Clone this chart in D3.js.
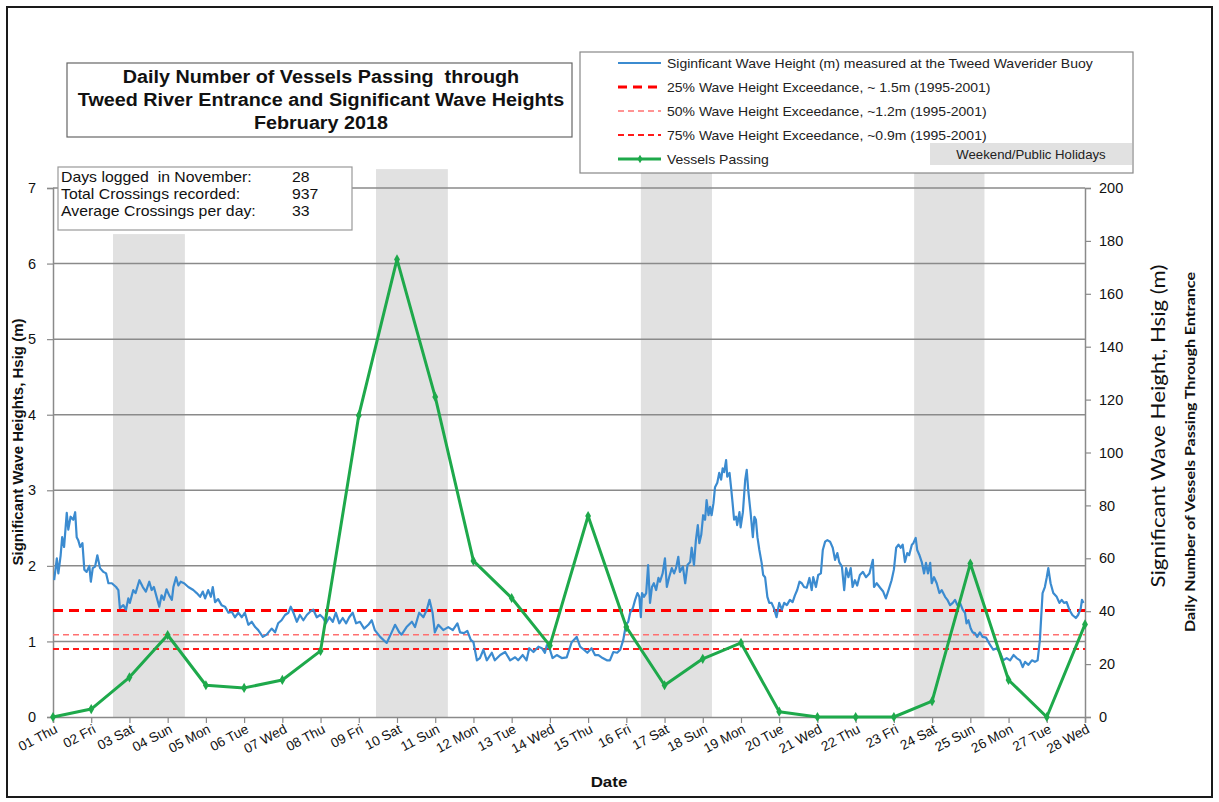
<!DOCTYPE html>
<html><head><meta charset="utf-8">
<script src="https://cdn.jsdelivr.net/npm/d3@7"></script>
<style>
html,body{margin:0;padding:0;background:#fff;}
svg text{font-family:"Liberation Sans",Arial,sans-serif;}
</style></head>
<body>
<svg id="chart" width="1219" height="802"></svg>
<script>
// ---------- DATA ----------
const dayLabels = ["01 Thu","02 Fri","03 Sat","04 Sun","05 Mon","06 Tue","07 Wed","08 Thu","09 Fri","10 Sat","11 Sun","12 Mon","13 Tue","14 Wed","15 Thu","16 Fri","17 Sat","18 Sun","19 Mon","20 Tue","21 Wed","22 Thu","23 Fri","24 Sat","25 Sun","26 Mon","27 Tue","28 Wed"];
const vessels = [0,3,15,31,12,11,14,25,114,173,121,59,45,27,76,34,12,22,28,2,0,0,0,6,58,14,0,35];

// wave record: time in days since 01 Feb 00:00, significant wave height (m)
const waveTime = [0.03,0.10,0.14,0.20,0.24,0.29,0.36,0.40,0.46,0.53,0.58,0.62,0.66,0.71,0.77,0.82,0.88,0.95,0.99,1.04,1.10,1.16,1.23,1.32,1.39,1.45,1.54,1.65,1.71,1.75,1.84,1.91,1.97,2.01,2.10,2.16,2.26,2.35,2.43,2.52,2.58,2.64,2.71,2.78,2.84,2.90,2.97,3.04,3.11,3.15,3.22,3.28,3.34,3.43,3.54,3.67,3.76,3.85,3.92,3.98,4.06,4.13,4.18,4.24,4.32,4.41,4.50,4.59,4.68,4.76,4.85,4.94,5.02,5.11,5.20,5.29,5.37,5.49,5.59,5.72,5.81,5.89,5.98,6.07,6.16,6.22,6.29,6.38,6.46,6.55,6.64,6.72,6.81,6.90,6.99,7.07,7.14,7.23,7.32,7.40,7.49,7.58,7.67,7.75,7.84,7.93,8.03,8.14,8.25,8.34,8.42,8.56,8.73,8.86,8.95,9.06,9.12,9.25,9.39,9.47,9.58,9.69,9.78,9.85,9.93,9.99,10.08,10.21,10.34,10.46,10.58,10.65,10.75,10.84,10.93,11.00,11.09,11.17,11.26,11.35,11.48,11.56,11.70,11.83,11.96,12.09,12.17,12.29,12.39,12.46,12.57,12.70,12.79,12.87,12.92,12.99,13.07,13.18,13.31,13.44,13.57,13.70,13.79,13.89,13.98,14.09,14.18,14.27,14.38,14.49,14.57,14.66,14.76,14.84,14.92,14.99,15.05,15.10,15.17,15.23,15.29,15.34,15.38,15.41,15.46,15.52,15.57,15.62,15.67,15.72,15.78,15.84,15.88,15.95,16.01,16.06,16.12,16.19,16.25,16.30,16.36,16.40,16.48,16.54,16.60,16.67,16.71,16.77,16.82,16.87,16.91,16.96,17.01,17.06,17.10,17.15,17.19,17.23,17.28,17.32,17.38,17.43,17.48,17.52,17.56,17.61,17.64,17.70,17.74,17.78,17.82,17.87,17.90,17.96,17.99,18.05,18.11,18.15,18.19,18.25,18.31,18.35,18.39,18.43,18.48,18.54,18.58,18.63,18.69,18.74,18.80,18.86,18.93,19.00,19.07,19.13,19.20,19.28,19.35,19.41,19.47,19.53,19.59,19.65,19.72,19.79,19.85,19.89,19.96,20.02,20.09,20.14,20.20,20.26,20.33,20.40,20.46,20.52,20.57,20.64,20.70,20.75,20.81,20.87,20.92,20.98,21.04,21.11,21.19,21.27,21.36,21.45,21.48,21.55,21.64,21.72,21.79,21.86,21.94,22.00,22.06,22.12,22.18,22.23,22.29,22.35,22.40,22.47,22.51,22.57,22.61,22.67,22.73,22.79,22.84,22.89,22.95,22.99,23.05,23.12,23.19,23.25,23.34,23.40,23.47,23.54,23.60,23.66,23.73,23.80,23.86,23.90,23.95,24.01,24.06,24.12,24.18,24.25,24.32,24.41,24.52,24.60,24.69,24.78,24.86,24.95,25.04,25.13,25.21,25.30,25.37,25.43,25.52,25.61,25.69,25.76,25.82,25.89,25.95,26.00,26.04,26.10,26.17,26.26,26.33,26.39,26.45,26.52,26.59,26.67,26.76,26.82,26.89,26.92,26.96];
const waveHeight = [1.81,2.10,1.90,2.14,2.38,2.25,2.70,2.48,2.65,2.61,2.71,2.38,2.34,2.25,2.30,1.95,1.92,2.00,1.79,1.97,1.99,2.14,1.97,1.92,1.90,1.77,1.77,1.72,1.68,1.44,1.48,1.42,1.57,1.51,1.68,1.64,1.81,1.72,1.66,1.79,1.68,1.72,1.59,1.46,1.61,1.55,1.69,1.61,1.55,1.72,1.85,1.74,1.79,1.77,1.72,1.68,1.64,1.59,1.66,1.57,1.68,1.59,1.72,1.52,1.56,1.48,1.46,1.38,1.39,1.32,1.38,1.32,1.38,1.22,1.26,1.19,1.15,1.06,1.09,1.17,1.12,1.24,1.28,1.35,1.38,1.46,1.38,1.26,1.35,1.28,1.35,1.39,1.42,1.32,1.35,1.31,1.24,1.32,1.26,1.38,1.24,1.31,1.24,1.32,1.38,1.24,1.26,1.17,1.22,1.28,1.15,1.06,0.98,1.12,1.22,1.12,1.09,1.19,1.26,1.19,1.38,1.32,1.42,1.55,1.38,1.12,1.22,1.15,1.19,1.15,1.24,1.12,1.11,1.14,1.02,0.99,0.75,0.78,0.89,0.75,0.85,0.75,0.82,0.86,0.75,0.79,0.75,0.82,0.75,0.91,0.86,0.93,0.91,0.85,0.95,0.91,0.78,0.82,0.78,0.79,0.99,1.06,0.93,0.89,0.85,0.91,0.82,0.82,0.78,0.75,0.75,0.86,0.85,0.89,1.02,1.22,1.26,1.38,1.44,1.55,1.64,1.59,1.32,1.64,1.59,1.64,2.01,1.51,1.72,1.77,1.68,1.84,1.79,1.90,2.10,1.72,1.85,1.97,1.90,1.97,2.12,1.92,1.99,1.77,2.01,2.05,2.24,2.01,2.34,2.54,2.30,2.41,2.67,2.61,2.87,2.67,2.78,2.67,2.83,3.04,3.10,3.23,3.14,3.29,3.24,3.40,3.18,3.23,3.04,2.83,2.61,2.65,2.54,2.71,2.51,2.71,3.14,3.27,3.00,2.71,2.38,2.65,2.61,2.38,2.21,2.04,1.88,1.85,1.59,1.51,1.51,1.44,1.32,1.51,1.42,1.51,1.48,1.55,1.52,1.61,1.68,1.79,1.77,1.72,1.71,1.84,1.68,1.85,1.72,1.88,1.90,2.21,2.32,2.34,2.32,2.24,2.08,2.17,2.05,1.99,1.68,1.97,1.85,1.97,1.72,1.81,1.74,1.88,1.92,1.85,1.90,2.08,1.72,1.77,1.71,1.66,1.57,1.68,1.81,1.95,2.24,2.28,2.24,2.28,2.05,2.17,2.14,2.28,2.30,2.37,2.21,2.14,2.05,1.90,2.04,1.90,2.04,1.77,1.85,1.77,1.64,1.68,1.59,1.55,1.48,1.51,1.55,1.48,1.51,1.42,1.38,1.24,1.28,1.17,1.12,1.11,1.06,1.12,1.06,1.05,0.95,0.89,0.91,0.85,0.75,0.78,0.75,0.82,0.78,0.75,0.66,0.73,0.69,0.75,0.73,0.75,1.02,1.64,1.72,1.85,1.97,1.77,1.64,1.59,1.51,1.55,1.51,1.52,1.42,1.35,1.31,1.35,1.44,1.55,1.51];

const exceedanceLabels = ["25% Wave Height Exceedance, ~ 1.5m (1995-2001)","50% Wave Height Exceedance, ~1.2m (1995-2001)","75% Wave Height Exceedance, ~0.9m (1995-2001)"];
const exceedanceValues = [1.41, 1.09, 0.90];

// weekend shading bands (day position start/end, top in m)
const shadeStart = [1.57, 8.45, 15.38, 22.53];
const shadeEnd   = [3.45, 10.33, 17.24, 24.37];
const shadeTop   = [6.39, 7.25, 7.25, 7.25];

const leftTicks = [0,1,2,3,4,5,6,7];
const rightTicks = [0,20,40,60,80,100,120,140,160,180,200];

const titleLines = ["Daily Number of Vessels Passing  through","Tweed River Entrance and Significant Wave Heights","February 2018"];
const statLabels = ["Days logged  in November:","Total Crossings recorded:","Average Crossings per day:"];
const statValues = ["28","937","33"];

// ---------- DRAW ----------
const svg = d3.select("#chart");
const L = 53, R = 1085, T = 188, B = 717;
const x = d3.scaleLinear().domain([0, 27]).range([L, R]);
const y = d3.scaleLinear().domain([0, 7]).range([B, T]);
const y2 = d3.scaleLinear().domain([0, 200]).range([B, T]);

const BLUE = "#3b8bd0", GREEN = "#1ea94b", GRID = "#8a8a8a", SHADE = "#e1e1e1";
const SX = 1.13; // horizontal stretch of the reference's text

function put(sel, px, py, sx){ // position a text with horizontal stretch
  return sel.attr("x",0).attr("y",0).attr("transform",`translate(${px},${py}) scale(${sx},1)`);
}

// outer frame
svg.append("rect").attr("x",7).attr("y",7).attr("width",1205).attr("height",790)
  .attr("fill","#fff").attr("stroke","#1a1a1a").attr("stroke-width",2);

// shades
svg.append("g").selectAll("rect").data(shadeStart).join("rect")
  .attr("x", (d,i)=>x(d)).attr("width",(d,i)=>x(shadeEnd[i])-x(d))
  .attr("y",(d,i)=>y(shadeTop[i])).attr("height",(d,i)=>y(0)-y(shadeTop[i]))
  .attr("fill",SHADE);

// gridlines
svg.append("g").selectAll("line").data(leftTicks.filter(d=>d>0)).join("line")
  .attr("x1",L).attr("x2",R).attr("y1",d=>y(d)).attr("y2",d=>y(d))
  .attr("stroke",GRID).attr("stroke-width",1.5);

// axes
const gL = svg.append("g").attr("transform",`translate(${L},0)`)
  .call(d3.axisLeft(y).tickValues(leftTicks).tickSize(6).tickPadding(11).tickFormat(d3.format("d")));
const gR = svg.append("g").attr("transform",`translate(${R},0)`)
  .call(d3.axisRight(y2).tickValues(rightTicks).tickSize(6).tickPadding(8).tickFormat(d3.format("d")));
const gX = svg.append("g").attr("transform",`translate(0,${B})`)
  .call(d3.axisBottom(x).tickValues(d3.range(dayLabels.length)).tickSize(6).tickFormat(i=>dayLabels[i]));
[gL,gR,gX].forEach(g=>{
  g.select(".domain").attr("stroke",GRID).attr("stroke-width",1.5);
  g.selectAll(".tick line").attr("stroke",GRID).attr("stroke-width",1.2);
  g.selectAll("text").attr("fill","#111").style("font-size","14.5px")
    .style("font-family","'Liberation Sans',Arial,sans-serif");
});
gX.selectAll("text").style("font-size","13.5px")
  .attr("text-anchor","end").attr("dy",null).attr("y",0).attr("x",0)
  .attr("transform","translate(5,15) rotate(-28)");

// exceedance lines
const excStyles = [
  {stroke:"#ff0000", w:3, dash:"10,6"},
  {stroke:"#ff7070", w:1.5, dash:"6,4"},
  {stroke:"#ff1a1a", w:2.2, dash:"6,4"}
];
svg.append("g").selectAll("line").data(exceedanceValues).join("line")
  .attr("x1",L).attr("x2",R).attr("y1",d=>y(d)).attr("y2",d=>y(d))
  .attr("stroke",(d,i)=>excStyles[i].stroke).attr("stroke-width",(d,i)=>excStyles[i].w)
  .attr("stroke-dasharray",(d,i)=>excStyles[i].dash);

// wave line
const waveData = waveTime.map((t,i)=>[t, waveHeight[i]]);
svg.append("path").datum(waveData)
  .attr("fill","none").attr("stroke",BLUE).attr("stroke-width",2.2).attr("stroke-linejoin","round")
  .attr("d", d3.line().x(d=>x(d[0])).y(d=>y(d[1])));

// vessels line
svg.append("path").datum(vessels)
  .attr("fill","none").attr("stroke",GREEN).attr("stroke-width",3).attr("stroke-linejoin","round")
  .attr("d", d3.line().x((d,i)=>x(i)).y(d=>y2(d)));
svg.append("g").selectAll("path").data(vessels).join("path")
  .attr("d", d3.symbol().type(d3.symbolDiamond).size(30))
  .attr("transform",(d,i)=>`translate(${x(i)},${y2(d)})`)
  .attr("fill",GREEN);

// title box
svg.append("rect").attr("x",67).attr("y",63).attr("width",505).attr("height",74)
  .attr("fill","#fff").attr("stroke","#666").attr("stroke-width",1.2);
svg.append("g").selectAll("text").data(titleLines).join("text")
  .attr("text-anchor","middle").attr("xml:space","preserve")
  .style("font-size","17.5px").style("font-weight","bold").attr("fill","#111")
  .text(d=>d)
  .each(function(d,i){ put(d3.select(this), 321, 83+i*23, SX); });

// stats box
svg.append("rect").attr("x",58).attr("y",167).attr("width",294).attr("height",63)
  .attr("fill","#fff").attr("stroke","#999").attr("stroke-width",1.2);
svg.append("g").selectAll("text").data(statLabels).join("text")
  .style("font-size","14px").attr("fill","#111").attr("xml:space","preserve").text(d=>d)
  .each(function(d,i){ put(d3.select(this), 61, 182+i*17, SX); });
svg.append("g").selectAll("text").data(statValues).join("text")
  .style("font-size","14px").attr("fill","#111").text(d=>d)
  .each(function(d,i){ put(d3.select(this), 292, 182+i*17, SX); });

// legend
const lg = svg.append("g");
lg.append("rect").attr("x",580).attr("y",52).attr("width",553).attr("height",121)
  .attr("fill","#fff").attr("stroke","#888").attr("stroke-width",1.2);
lg.append("rect").attr("x",930).attr("y",143).attr("width",202).attr("height",22).attr("fill",SHADE);
put(lg.append("text").attr("text-anchor","middle").style("font-size","12px").attr("fill","#222")
  .text("Weekend/Public Holidays"), 1031, 159, 1.1);
const legendItems = [
  {label:"Siginficant Wave Height (m) measured at the Tweed Waverider Buoy", stroke:BLUE, w:2, dash:null},
  {label:exceedanceLabels[0], stroke:excStyles[0].stroke, w:excStyles[0].w, dash:"9,6"},
  {label:exceedanceLabels[1], stroke:excStyles[1].stroke, w:excStyles[1].w, dash:"6,4"},
  {label:exceedanceLabels[2], stroke:excStyles[2].stroke, w:excStyles[2].w, dash:"6,4"},
  {label:"Vessels Passing", stroke:GREEN, w:3, dash:null}
];
const li = lg.selectAll("g.item").data(legendItems).join("g").attr("class","item")
  .attr("transform",(d,i)=>`translate(0,${63+i*24})`);
li.append("line").attr("x1",618).attr("x2",661).attr("y1",0).attr("y2",0)
  .attr("stroke",d=>d.stroke).attr("stroke-width",d=>d.w).attr("stroke-dasharray",d=>d.dash);
li.append("text").style("font-size","12.5px").attr("fill","#222").text(d=>d.label)
  .each(function(){ put(d3.select(this), 667, 4.5, 1.12); });
li.filter((d,i)=>i===4).append("path").attr("d",d3.symbol().type(d3.symbolDiamond).size(22))
  .attr("transform","translate(640,0)").attr("fill",GREEN);

// axis titles
svg.append("text").attr("transform","translate(23,442) rotate(-90)").attr("text-anchor","middle")
  .style("font-size","15px").style("font-weight","bold").attr("fill","#111")
  .text("Significant Wave Heights, Hsig (m)");
svg.append("text").attr("transform","translate(1165,426) rotate(-90)").attr("text-anchor","middle")
  .style("font-family","Lato,'Open Sans',sans-serif").style("font-size","19px").style("font-weight","normal").attr("fill","#111")
  .attr("textLength",323).attr("lengthAdjust","spacingAndGlyphs")
  .text("Significant Wave Height, Hsig (m)");
svg.append("text").attr("transform","translate(1195,452) rotate(-90)").attr("text-anchor","middle")
  .style("font-family","Lato,'Open Sans',sans-serif").style("font-size","14px").style("font-weight","bold").attr("fill","#111")
  .attr("textLength",360).attr("lengthAdjust","spacingAndGlyphs")
  .text("Daily Number of Vessels Passing Through Entrance");
put(svg.append("text").attr("text-anchor","middle")
  .style("font-size","15px").style("font-weight","bold").attr("fill","#111").text("Date"), 609, 787, SX);
</script>
</body></html>
